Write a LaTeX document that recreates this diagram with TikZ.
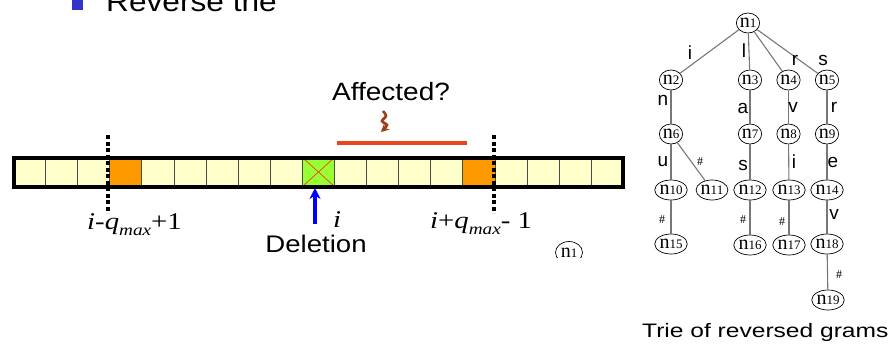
\documentclass[tikz,border=0pt]{standalone}
\usepackage{fontspec}
\setmainfont{Liberation Serif}
\setsansfont{Liberation Sans}
\usetikzlibrary{shapes.geometric,arrows.meta}
\definecolor{cellyel}{HTML}{FFFFCC}
\definecolor{orng}{HTML}{FF9900}
\definecolor{lime}{HTML}{99FF33}
\definecolor{redl}{HTML}{E8461A}
\definecolor{brwn}{HTML}{9C3D14}
\definecolor{bullet}{HTML}{3333CC}
\definecolor{tedgecol}{HTML}{777777}
\newcommand\trienum[1]{{\fontsize{20}{20}\selectfont n}{\fontsize{13}{13}\selectfont #1}}
\newcommand\mylab[2]{{\fontsize{#1}{#1}\selectfont #2}}
\begin{document}
\begin{tikzpicture}[x=1pt,y=-1pt,
  cell/.style={rectangle,draw=black!70,line width=0.9pt,minimum width=32.1pt,minimum height=29pt,inner sep=0pt,outer sep=0pt},
  dotline/.style={line width=3.2pt,dash pattern=on 4pt off 2.5pt,black},
  mlab/.style={inner sep=0pt,font=\fontsize{24}{24}\selectfont},
  slab/.style={inner sep=0pt,font=\sffamily},
  tnode/.style={ellipse,draw=black,line width=0.7pt,fill=white,minimum width=23pt,minimum height=20pt,inner sep=0pt},
  tedge/.style={draw=tedgecol,line width=1.1pt},
  elab/.style={inner sep=0pt,font=\sffamily\fontsize{19}{19}\selectfont},
  hlab/.style={inner sep=0pt,font=\fontsize{12}{12}\selectfont}]
\useasboundingbox (0,0) rectangle (892,354);
\clip (0,0) rectangle (892,354);

% title fragment
\fill[bullet] (72,-1) rectangle (83,10);
\node[slab,anchor=base west] (title) at (106,11.5) {\scalebox{1.13}[1]{\mylab{28}{Reverse the}}};

% array of cells
\foreach \k/\f in {0/cellyel,1/cellyel,2/cellyel,3/orng,4/cellyel,5/cellyel,6/cellyel,7/cellyel,8/cellyel,9/lime,10/cellyel,11/cellyel,12/cellyel,13/cellyel,14/orng,15/cellyel,16/cellyel,17/cellyel,18/cellyel}
  \node[cell,fill=\f] (c\k) at ({13.5+32.1*(\k+0.5)},172) {};
\draw[redl,line width=0.7pt] (c9.north west) -- (c9.south east) (c9.north east) -- (c9.south west);
\draw[line width=4pt] (c0.north west) rectangle (c18.south east);

% dotted bounds
\coordinate (dla) at (108,135); \coordinate (dlb) at (108,213);
\coordinate (dra) at (494,135); \coordinate (drb) at (494,213);
\draw[dotline] (dla) -- (dlb);
\draw[dotline] (dra) -- (drb);

% labels under array
\node[mlab,anchor=base west] (lowlab) at (87,229) {\scalebox{1.2}[1]{\textit{i}-\textit{q}\raisebox{-6pt}{\fontsize{16}{16}\selectfont\textit{max}}+1}};
\node[mlab,anchor=base] (ilab) at (337,227) {\scalebox{1.2}[1]{\textit{i}}};
\node[mlab,anchor=base west] (highlab) at (430,228) {\scalebox{1.2}[1]{\textit{i}+\textit{q}\raisebox{-6pt}{\fontsize{16}{16}\selectfont\textit{max}}- 1}};
\node[slab,anchor=base] (del) at (316,252) {\scalebox{1.15}[1]{\mylab{24}{Deletion}}};

% deletion arrow
\coordinate (delfoot) at (315,224);
\draw[blue,line width=3.4pt,-{Stealth[length=11pt,width=11pt]}] (delfoot) -- ([yshift=-1.5pt]delfoot |- c9.south);

% affected
\node[slab,anchor=base] (aff) at (391,100) {\scalebox{1.12}[1]{\mylab{25}{Affected?}}};
\coordinate (affa) at (337,143); \coordinate (affb) at (467,143);
\draw[redl,line width=4pt] (affa) -- (affb);
\draw[brwn,line width=2.6pt,-{Stealth[length=8pt,width=8pt]}] plot[smooth] coordinates {(383,111) (386,116) (382,121) (387,125) (384,129) (381,132)};

% partial node
\begin{scope}
\clip (540,236) rectangle (600,257.5);
\node[tnode,minimum width=27pt,minimum height=22pt] (m1) at (569,252.5) {\trienum{1}};
\end{scope}

% trie
\node[tnode] (n1) at (748,23) {\trienum{1}};
\node[tnode] (n2) at (671,80) {\trienum{2}};
\node[tnode] (n3) at (750,80) {\trienum{3}};
\node[tnode] (n4) at (788.5,80) {\trienum{4}};
\node[tnode] (n5) at (827,80) {\trienum{5}};
\node[tnode] (n6) at (671,134) {\trienum{6}};
\node[tnode] (n7) at (750,134) {\trienum{7}};
\node[tnode] (n8) at (788.5,134) {\trienum{8}};
\node[tnode] (n9) at (827,134) {\trienum{9}};
\node[tnode] (n10) at (671,190) {\trienum{10}};
\node[tnode] (n11) at (712,190) {\trienum{11}};
\node[tnode] (n12) at (750,190) {\trienum{12}};
\node[tnode] (n13) at (789,190) {\trienum{13}};
\node[tnode] (n14) at (827,190) {\trienum{14}};
\node[tnode] (n15) at (671,244) {\trienum{15}};
\node[tnode] (n16) at (750,245) {\trienum{16}};
\node[tnode] (n17) at (789,245) {\trienum{17}};
\node[tnode] (n18) at (827,244) {\trienum{18}};
\node[tnode] (n19) at (828,300) {\trienum{19}};

\foreach \a/\b in {n1/n2,n1/n3,n1/n4,n1/n5,n2/n6,n3/n7,n4/n8,n5/n9,n6/n10,n6/n11,n7/n12,n8/n13,n9/n14,n10/n15,n12/n16,n13/n17,n14/n18,n18/n19}
  \draw[tedge] (\a) -- (\b);

% edge labels
\node[elab] (l1) at (690,53) {i};
\node[elab] (l2) at (744,51) {l};
\node[elab] (l3) at (795,60) {r};
\node[elab] (l4) at (823,60) {s};
\node[elab] (l5) at (663,100) {n};
\node[elab] (l6) at (743,108) {a};
\node[elab] (l7) at (793,107) {v};
\node[elab] (l8) at (834,107) {r};
\node[elab] (l9) at (663,162) {u};
\node[hlab] (l10) at (700,162) {\#};
\node[elab] (l11) at (743,165) {s};
\node[elab] (l12) at (794,162) {i};
\node[elab] (l13) at (833,162) {e};
\node[hlab] (l14) at (662,220) {\#};
\node[hlab] (l15) at (743,220) {\#};
\node[hlab] (l16) at (782,222) {\#};
\node[elab] (l17) at (834,214) {v};
\node[hlab] (l18) at (839,275) {\#};

\node[slab,anchor=base west] (cap) at (642,337) {\scalebox{1.26}[1]{\mylab{19.5}{Trie of reversed grams}}};
\end{tikzpicture}
\end{document}
